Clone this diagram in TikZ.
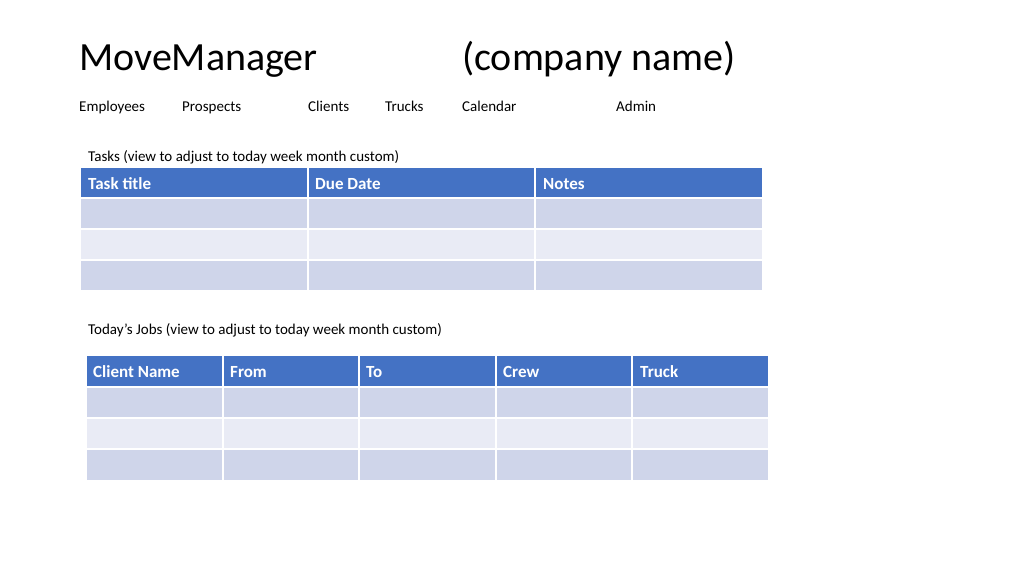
\documentclass[tikz,border=0pt]{standalone}
\usepackage{fontspec}
\setmainfont{Carlito}
\definecolor{hdr}{HTML}{4472C4}
\definecolor{rowa}{HTML}{CFD5EA}
\definecolor{rowb}{HTML}{E9EBF5}
\begin{document}
\begin{tikzpicture}[x=1pt,y=-1pt,
  lbl/.style={anchor=base west,inner sep=0pt,font=\fontsize{15}{18}\selectfont},
  ttl/.style={anchor=base west,inner sep=0pt,font=\fontsize{40}{48}\selectfont},
  hd/.style={anchor=base west,inner sep=0pt,text=white,font=\bfseries\fontsize{17}{20}\selectfont},
  grid/.style={white,line width=2pt}]
\useasboundingbox (0,0) rectangle (1024,576);
\node[ttl] (t1) at (79,70) {MoveManager};
\node[ttl] (t2) at (462,70) {(company name)};
\foreach \x/\s [count=\i] in {79/Employees,182/Prospects,308/Clients,385/Trucks,462/Calendar,616/Admin}
  \node[lbl] (m\i) at (\x,111) {\s};
\node[lbl] (tasks) at (88,161) {Tasks (view to adjust to today week month custom)};
% table 1
\fill[hdr] (81,168) rectangle (762,198);
\fill[rowa] (81,198) rectangle (762,229);
\fill[rowb] (81,229) rectangle (762,260);
\fill[rowa] (81,260) rectangle (762,290);
\foreach \y in {198,229,260} \draw[grid] (81,\y) -- (762,\y);
\foreach \x in {308,535} \draw[grid] (\x,168) -- (\x,290);
\node[hd] (h1) at (88,189) {Task title};
\node[hd] (h2) at (315,189) {Due Date};
\node[hd] (h3) at (543,189) {Notes};
\node[lbl] (jobs) at (88,334) {Today’s Jobs (view to adjust to today week month custom)};
% table 2
\fill[hdr] (87,356) rectangle (768,387);
\fill[rowa] (87,387) rectangle (768,418);
\fill[rowb] (87,418) rectangle (768,449);
\fill[rowa] (87,449) rectangle (768,480);
\foreach \y in {387,418,449} \draw[grid] (87,\y) -- (768,\y);
\foreach \x in {223,359,496,632} \draw[grid] (\x,356) -- (\x,480);
\foreach \x/\s [count=\i] in {93/Client Name,230/From,366/To,503/Crew,640/Truck}
  \node[hd] (j\i) at (\x,377) {\s};
\end{tikzpicture}
\end{document}
